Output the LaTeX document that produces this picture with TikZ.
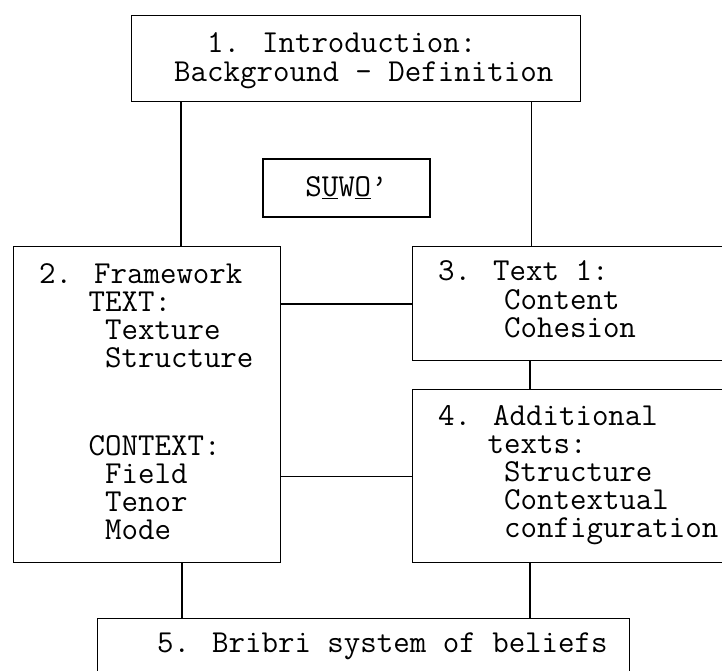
\documentclass[tikz,border=0pt]{standalone}
\usepackage{fontspec}
\newcommand{\boxfont}{\ttfamily\fontsize{32}{28}\selectfont}
\newcommand{\pad}[1]{\hspace*{#1\fontcharwd\font`x}}
\tikzset{
  box/.style={draw, line width=1.2pt, inner sep=0pt, anchor=north west},
  boxtext/.style={inner sep=0pt, anchor=north west, align=left, font=\boxfont},
  link/.style={line width=1.2pt}
}
\begin{document}
\begin{tikzpicture}[x=1pt,y=-1pt]
\useasboundingbox (0,0) rectangle (722,670);
\clip (0,0) rectangle (722,670);
% boxes
\node[box, minimum width=449pt, minimum height=86pt] (intro) at (131,15) {};
\node[box, minimum width=267pt, minimum height=316pt] (frame) at (13,246) {};
\node[box, minimum width=340pt, minimum height=114pt] (textone) at (412,246) {};
\node[box, minimum width=340pt, minimum height=173pt] (addtexts) at (412,389) {};
\node[box, minimum width=532pt, minimum height=80pt] (beliefs) at (97,618) {};
\node[box, anchor=center, minimum width=167pt, minimum height=58pt, font=\boxfont] (suwo) at (346.5,188) {S\underline{U}W\underline{O}’};
% texts
\node[boxtext] (introtext) at ([shift={(43,17.4)}]intro.north west)
  {\strut\pad{2}1. Introduction:\\Background - Definition};
\node[boxtext] (frametext) at ([shift={(26,17.4)}]frame.north west)
  {\strut 2. Framework\\\pad{3}TEXT:\\\pad{4}Texture\\\pad{4}Structure\\[60pt]
   \pad{3}CONTEXT:\\\pad{4}Field\\\pad{4}Tenor\\\pad{4}Mode};
\node[boxtext] (textonetext) at ([shift={(26,14)}]textone.north west)
  {\strut 3. Text 1:\\\pad{4}Content\\\pad{4}Cohesion};
\node[boxtext] (addtextstext) at ([shift={(26,16.4)}]addtexts.north west)
  {\strut 4. Additional\\\pad{3}texts:\\\pad{4}Structure\\\pad{4}Contextual\\\pad{4}configuration};
\node[boxtext] (beliefstext) at ([shift={(60,14.4)}]beliefs.north west)
  {\strut 5. Bribri system of beliefs};
% connectors
\draw[link] ([xshift=50pt]intro.south west) -- ([xshift=50pt]intro.south west |- frame.north);
\draw[link] ([xshift=-50pt]intro.south east) -- ([xshift=-50pt]intro.south east |- textone.north);
\draw[link] ([yshift=-58pt]frame.north east) -- ([yshift=-58pt]frame.north east -| textone.west);
\draw[link] ([xshift=118pt]textone.south west) -- ([xshift=118pt]addtexts.north west);
\draw[link] ([yshift=87pt]frame.south east) -- ([yshift=87pt]frame.south east -| addtexts.west);
\draw[link] ([xshift=169pt]frame.south west) -- ([xshift=169pt]frame.south west |- beliefs.north);
\draw[link] ([xshift=118pt]addtexts.south west) -- ([xshift=118pt]addtexts.south west |- beliefs.north);
\end{tikzpicture}
\end{document}
